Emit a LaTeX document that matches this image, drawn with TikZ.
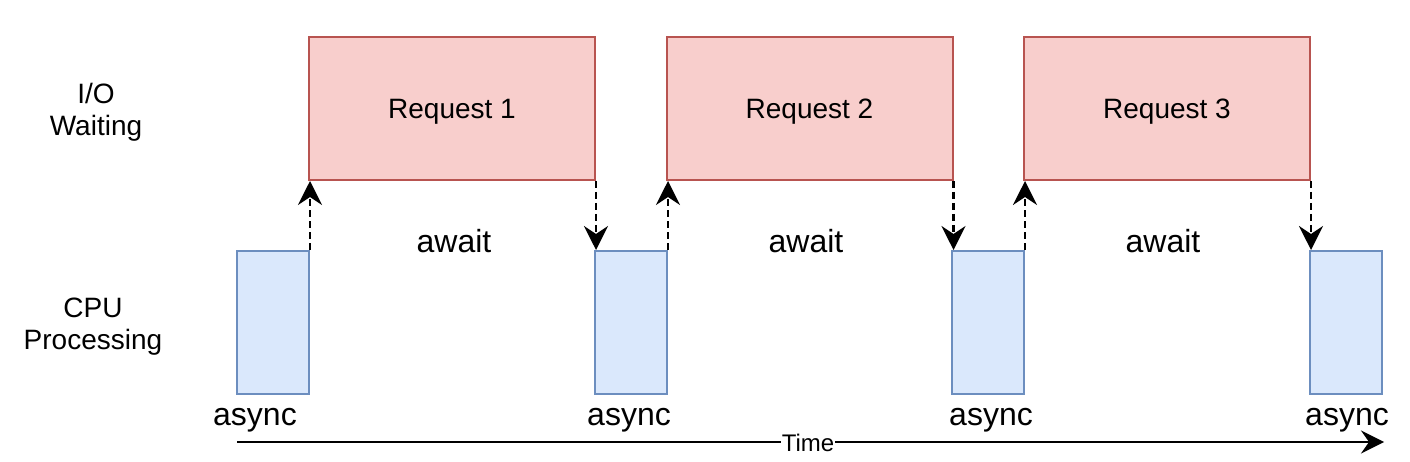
\documentclass[tikz,border=0pt]{standalone}
\usepackage{fontspec}
\setmainfont{Liberation Sans}
\usetikzlibrary{arrows.meta}
\definecolor{reqfill}{HTML}{F8CECC}
\definecolor{reqdraw}{HTML}{B85450}
\definecolor{cpufill}{HTML}{DAE8FC}
\definecolor{cpudraw}{HTML}{6C8EBF}
\begin{document}
\begin{tikzpicture}[x=1pt,y=-1pt,
  reqbox/.style={draw=reqdraw,fill=reqfill,line width=2pt,minimum width=286pt,minimum height=143pt,inner sep=0pt,text depth=0pt,font=\fontsize{28}{32}\selectfont},
  cpubox/.style={draw=cpudraw,fill=cpufill,line width=2pt,minimum width=72pt,minimum height=143pt,inner sep=0pt},
  lbl/.style={font=\fontsize{28}{32}\selectfont,align=center,inner sep=0pt},
  biglbl/.style={font=\fontsize{32}{36}\selectfont,inner sep=0pt},
  dasharrow/.style={line width=2.7pt,dash pattern=on 7pt off 4pt,-{Stealth[length=24pt,width=24pt,inset=8pt]}},
  axis/.style={line width=2.5pt,-{Stealth[length=23pt,width=23pt,inset=8pt]}}
]
\useasboundingbox (0,0) rectangle (1410,462);
% request boxes
\node[reqbox] (r1) at (452,108.5) {Request 1};
\node[reqbox] (r2) at (809.5,108.5) {Request 2};
\node[reqbox] (r3) at (1167,108.5) {Request 3};
% cpu boxes
\node[cpubox] (c1) at (273,322.5) {};
\node[cpubox] (c2) at (631,322.5) {};
\node[cpubox] (c3) at (988,322.5) {};
\node[cpubox] (c4) at (1346,322.5) {};
% row labels
\node[lbl] (io) at (96,112) {I/O\\Waiting};
\node[lbl] (cpu) at (93,327) {CPU\\Processing};
% await labels
\node[biglbl] (w1) at (454,241) {await};
\node[biglbl] (w2) at (806,241) {await};
\node[biglbl] (w3) at (1163,241) {await};
% async labels
\node[biglbl] (a1) at (255,420) {async};
\node[biglbl] (a2) at (629,420) {async};
\node[biglbl] (a3) at (991,420) {async};
\node[biglbl] (a4) at (1347,420) {async};
% dashed arrows
\draw[dasharrow] (c1.north east) -- (c1.north east |- r1.south);
\draw[dasharrow] (r1.south east) -- (r1.south east |- c2.north);
\draw[dasharrow] (c2.north east) -- (c2.north east |- r2.south);
\draw[dasharrow] (r2.south east) -- (r2.south east |- c3.north);
\draw[dasharrow] (c3.north east) -- (c3.north east |- r3.south);
\draw[dasharrow] (r3.south east) -- (r3.south east |- c4.north);
% time axis
\coordinate (t0) at (237,442);
\coordinate (t1) at (1384,442);
\draw[axis] (t0) -- (t1);
\node[fill=white,inner sep=1pt,font=\fontsize{24}{28}\selectfont] (time) at (808,443) {Time};
\end{tikzpicture}
\end{document}
